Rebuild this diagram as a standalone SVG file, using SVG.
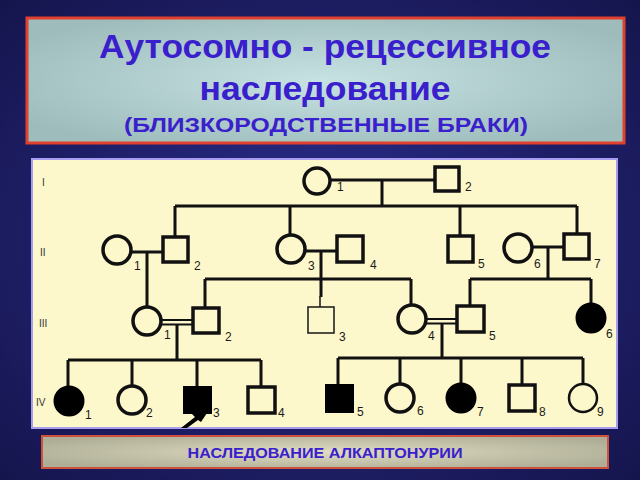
<svg xmlns="http://www.w3.org/2000/svg" width="640" height="480" viewBox="0 0 640 480">
<defs>
<radialGradient id="bg" cx="50%" cy="50%" r="70%">
<stop offset="0" stop-color="#2c2c8c"/>
<stop offset="1" stop-color="#15154e"/>
</radialGradient>
<radialGradient id="tg" cx="50%" cy="50%" r="60%">
<stop offset="0" stop-color="#c6e2e2"/>
<stop offset="1" stop-color="#9fbcbc"/>
</radialGradient>
<radialGradient id="bgb" cx="50%" cy="50%" r="60%">
<stop offset="0" stop-color="#e0dcc2"/>
<stop offset="1" stop-color="#aeae96"/>
</radialGradient>
<style>
.t{font-family:"Liberation Sans",Arial,sans-serif;font-weight:bold;fill:#3a20cc;text-anchor:middle}
.n{font-family:"Liberation Sans",Arial,sans-serif;font-size:12px;fill:#1a1a1a}
.g{font-family:"Liberation Sans",Arial,sans-serif;font-size:10px;fill:#333}
.s{fill:none;stroke:#111;stroke-width:3.5}
.f{fill:#000;stroke:#000;stroke-width:2}
.thin{fill:none;stroke:#222;stroke-width:1.6}
.ln{stroke:#111;stroke-width:3;fill:none}
</style>
</defs>
<rect width="640" height="480" fill="url(#bg)"/>
<g id="title">
<rect x="27" y="18" width="597" height="125" fill="url(#tg)" stroke="#e0402e" stroke-width="3"/>
<text class="t" x="325" y="58" font-size="34" textLength="452" lengthAdjust="spacingAndGlyphs">Аутосомно - рецессивное</text>
<text class="t" x="325" y="100" font-size="34" textLength="251" lengthAdjust="spacingAndGlyphs">наследование</text>
<text class="t" x="326" y="132" font-size="21" textLength="404" lengthAdjust="spacingAndGlyphs">(БЛИЗКОРОДСТВЕННЫЕ БРАКИ)</text>
</g>
<rect x="32" y="159" width="585" height="269" fill="#fdf7cc" stroke="#a89cf0" stroke-width="2"/>
<g id="gen-labels">
<text class="g" x="42" y="186">I</text>
<text class="g" x="40" y="256">II</text>
<text class="g" x="39" y="327">III</text>
<text class="g" x="36" y="406">IV</text>
</g>
<g id="connectors">
<path class="ln" d="M330,180H435M382,180V206M175,206H577M175,206V237M290,206V235M460,206V236M577,206V234"/>
<path class="ln" d="M131,252H163M147,252V307"/>
<path class="ln" d="M305,251H337M321,251V297M205,279H411M205,279V308M411,279V305"/>
<path stroke="#222" stroke-width="1.6" d="M320,296V307"/>
<path class="ln" d="M532,247H564M548,247V279M470,279H591M470,279V306M591,279V303"/>
<path stroke="#111" stroke-width="2" d="M161,320H193M161,324.5H193M426,319H457M426,323.5H457"/>
<path class="ln" d="M177,324V360M68,360H261M68,360V386M132,360V386M197,360V387M261,360V387"/>
<path class="ln" d="M442,323V358M338,358H583M338,358V385M400,358V384M461,358V384M522,358V385M583,358V384"/>
</g>
<g id="I-1"><circle class="s" cx="317" cy="181" r="13"/><text class="n" x="337" y="191">1</text></g>
<g id="I-2"><rect class="s" x="435" y="167" width="24" height="24"/><text class="n" x="465" y="191">2</text></g>
<g id="II-1"><circle class="s" cx="117" cy="250" r="14"/><text class="n" x="134" y="270">1</text></g>
<g id="II-2"><rect class="s" x="163" y="237" width="25" height="25"/><text class="n" x="194" y="270">2</text></g>
<g id="II-3"><circle class="s" cx="291" cy="249" r="14"/><text class="n" x="308" y="270">3</text></g>
<g id="II-4"><rect class="s" x="337" y="236" width="26" height="26"/><text class="n" x="370" y="269">4</text></g>
<g id="II-5"><rect class="s" x="448" y="236" width="25" height="26"/><text class="n" x="478" y="268">5</text></g>
<g id="II-6"><circle class="s" cx="518" cy="248" r="14"/><text class="n" x="534" y="268">6</text></g>
<g id="II-7"><rect class="s" x="564" y="234" width="25" height="25"/><text class="n" x="594" y="268">7</text></g>
<g id="III-1"><circle class="s" cx="147" cy="321" r="14"/><text class="n" x="164" y="339">1</text></g>
<g id="III-2"><rect class="s" x="193" y="308" width="26" height="25"/><text class="n" x="225" y="341">2</text></g>
<g id="III-3"><rect class="thin" x="308" y="307" width="26" height="26"/><text class="n" x="339" y="341">3</text></g>
<g id="III-4"><circle class="s" cx="412" cy="319" r="14"/><text class="n" x="428" y="340">4</text></g>
<g id="III-5"><rect class="s" x="457" y="306" width="27" height="26"/><text class="n" x="489" y="340">5</text></g>
<g id="III-6"><circle class="f" cx="591" cy="318" r="14.5"/><text class="n" x="606" y="338">6</text></g>
<g id="IV-1"><circle class="f" cx="69" cy="401" r="14.5"/><text class="n" x="85" y="419">1</text></g>
<g id="IV-2"><circle class="s" cx="132" cy="400" r="14"/><text class="n" x="146" y="417">2</text></g>
<g id="IV-3"><rect class="f" x="184" y="387" width="27" height="26"/><text class="n" x="213" y="417">3</text>
<polygon points="207,413 192,414 195,417 181,428 187,428 198,420 201,422" fill="#000"/></g>
<g id="IV-4"><rect class="s" x="248" y="387" width="27" height="26"/><text class="n" x="278" y="417">4</text></g>
<g id="IV-5"><rect class="f" x="326" y="385" width="27" height="27"/><text class="n" x="357" y="416">5</text></g>
<g id="IV-6"><circle class="s" cx="400" cy="398" r="14"/><text class="n" x="417" y="415">6</text></g>
<g id="IV-7"><circle class="f" cx="461" cy="398" r="14.5"/><text class="n" x="477" y="416">7</text></g>
<g id="IV-8"><rect class="s" x="509" y="385" width="26" height="26"/><text class="n" x="539" y="416">8</text></g>
<g id="IV-9"><circle cx="583" cy="398" r="14" fill="none" stroke="#111" stroke-width="2.5"/><text class="n" x="597" y="416">9</text></g>
<g id="caption">
<rect x="42" y="436" width="566" height="32" fill="url(#bgb)" stroke="#d0503e" stroke-width="2"/>
<text class="t" x="325" y="458" font-size="15" textLength="275" lengthAdjust="spacingAndGlyphs">НАСЛЕДОВАНИЕ  АЛКАПТОНУРИИ</text>
</g>
</svg>
